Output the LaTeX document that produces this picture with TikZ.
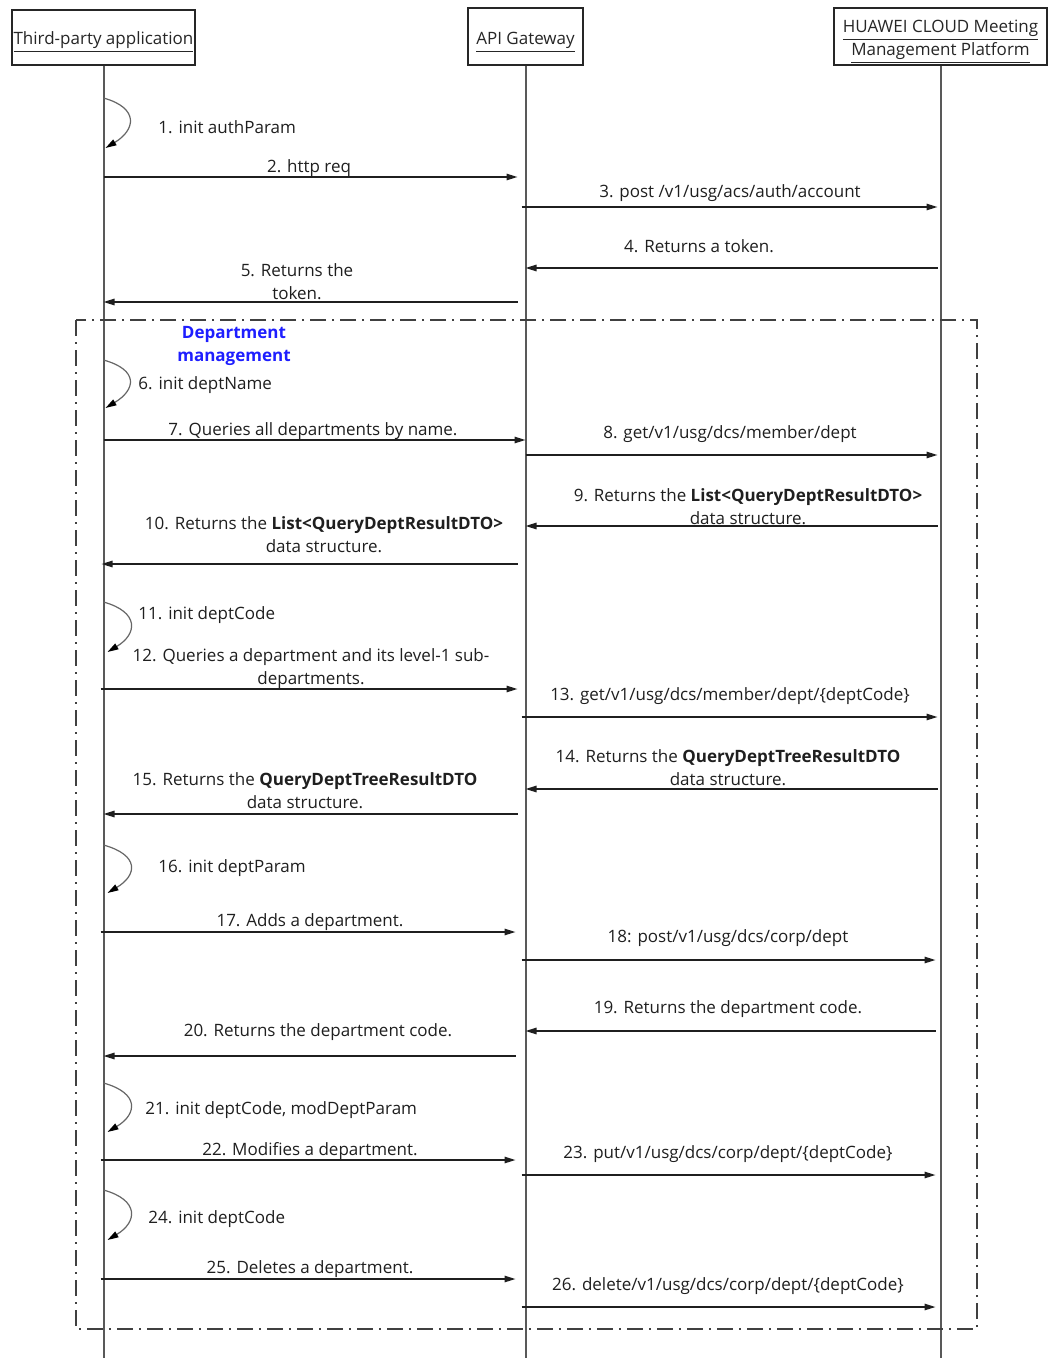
\documentclass[tikz,border=0pt]{standalone}
\usepackage{fontspec}
\setmainfont{Open Sans}
\usetikzlibrary{arrows.meta}
\begin{document}
\begin{tikzpicture}[x=0.5pt,y=-0.5pt,
  font=\fontsize{8.5}{11.5}\selectfont,
  lbl/.style={inner sep=0, align=center, text=black!88, yshift=-1pt},
  msg/.style={draw=black!88, line width=0.75pt, -{Triangle[length=5.5pt,width=3.2pt]}},
  loopmsg/.style={draw=black!60, line width=0.6pt, -{Triangle[length=5.5pt,width=3.2pt,color=black]}},
  life/.style={draw=black!65, line width=1pt},
  head/.style={draw=black!85, line width=0.6pt, inner sep=0},
  htxt/.style={inner sep=0, align=center, text=black!85},
  frame/.style={draw=black!75, line width=0.6pt, dash pattern=on 8pt off 3pt on 1pt off 3pt},
  grp/.style={inner sep=0, align=center, yshift=-1pt, text={rgb,255:red,30;green,30;blue,255}, font=\fontsize{8.5}{11.5}\selectfont\bfseries}]
\useasboundingbox (0,0) rectangle (1048,1358);
\fill[white] (0,0) rectangle (1048,1358);
% headers
\node[head, minimum width=91.5pt, minimum height=27.5pt] (A) at (103.5,37.5) {};
\node[head, minimum width=57.5pt, minimum height=28.5pt] (G) at (525.5,36.5) {};
\node[head, minimum width=106.5pt, minimum height=28.5pt] (P) at (940.5,36.5) {};
\node[htxt] (At) at (103.5,42) {\underline{Third-party application}};
\node[htxt] (Gt) at (525.5,42) {\underline{API Gateway}};
\node[htxt] (Pt) at (940.5,42) {\underline{HUAWEI CLOUD Meeting}\\\underline{Management Platform}};
% lifelines
\draw[life] (A.south) -- (A.south |- 0,1358);
\draw[life] (G.south) -- (G.south |- 0,1358);
\draw[life] (P.south) -- (P.south |- 0,1358);
% group frame
\draw[frame] (76,320) rectangle (977,1329);
\node[grp] (grp) at (234,344) {Department\\management};
% 1
\draw[loopmsg] (A.south |- 0,98) .. controls +(36,10) and +(30,-18) .. ([xshift=1pt]A.south |- 0,148);
\node[lbl, anchor=west] (m1) at (158,125) {1. init authParam};
% 2
\draw[msg, shorten >=4pt] (A.south |- 0,177) -- (G.south |- 0,177);
\node[lbl] (m2) at (309,166) {2. http req};
% 3
\draw[msg, shorten <=-2pt, shorten >=1.5pt] (G.south |- 0,207) -- (P.south |- 0,207);
\node[lbl] (m3) at (730,191) {3. post /v1/usg/acs/auth/account};
% 4
\draw[msg, shorten <=1.5pt] (P.south |- 0,268) -- (G.south |- 0,268);
\node[lbl] (m4) at (699,244) {4. Returns a token.};
% 5
\draw[msg, shorten <=4pt] (G.south |- 0,302) -- (A.south |- 0,302);
\node[lbl] (m5) at (297,280) {5. Returns the\\token.};
% 6
\draw[loopmsg] (A.south |- 0,360) .. controls +(36,10) and +(30,-18) .. ([xshift=1pt]A.south |- 0,408);
\node[lbl, anchor=west] (m6) at (138,383) {6. init deptName};
% 7
\draw[msg] (A.south |- 0,440) -- (G.south |- 0,440);
\node[lbl] (m7) at (313,429) {7. Queries all departments by name.};
% 8
\draw[msg, shorten >=1.5pt] (G.south |- 0,455) -- (P.south |- 0,455);
\node[lbl] (m8) at (730,432) {8. get/v1/usg/dcs/member/dept};
% 9
\draw[msg, shorten <=1.5pt] (P.south |- 0,526) -- (G.south |- 0,526);
\node[lbl] (m9) at (748,504.5) {9. Returns the \textbf{List<QueryDeptResultDTO>}\\data structure.};
% 10
\draw[msg, shorten <=4pt, shorten >=-1pt] (G.south |- 0,564) -- (A.south |- 0,564);
\node[lbl] (m10) at (324,532.5) {10. Returns the \textbf{List<QueryDeptResultDTO>}\\data structure.};
% 11
\draw[loopmsg] (A.south |- 0,602) .. controls +(36,10) and +(30,-18) .. ([xshift=2pt]A.south |- 0,652);
\node[lbl, anchor=west] (m11) at (138,613) {11. init deptCode};
% 12
\draw[msg, shorten <=-1.5pt, shorten >=4pt] (A.south |- 0,689) -- (G.south |- 0,689);
\node[lbl] (m12) at (311,666.5) {12. Queries a department and its level-1 sub-\\departments.};
% 13
\draw[msg, shorten <=-2pt, shorten >=1.5pt] (G.south |- 0,717) -- (P.south |- 0,717);
\node[lbl] (m13) at (730,694) {13. get/v1/usg/dcs/member/dept/\{deptCode\}};
% 14
\draw[msg, shorten <=1.5pt] (P.south |- 0,789) -- (G.south |- 0,789);
\node[lbl] (m14) at (728,765.5) {14. Returns the \textbf{QueryDeptTreeResultDTO}\\data structure.};
% 15
\draw[msg, shorten <=4pt] (G.south |- 0,814) -- (A.south |- 0,814);
\node[lbl] (m15) at (305,788.5) {15. Returns the \textbf{QueryDeptTreeResultDTO}\\data structure.};
% 16
\draw[loopmsg] (A.south |- 0,845) .. controls +(36,10) and +(30,-18) .. ([xshift=2pt]A.south |- 0,893);
\node[lbl, anchor=west] (m16) at (158,866) {16. init deptParam};
% 17
\draw[msg, shorten <=-1.5pt, shorten >=5pt] (A.south |- 0,932) -- (G.south |- 0,932);
\node[lbl] (m17) at (310,920) {17. Adds a department.};
% 18
\draw[msg, shorten <=-2pt, shorten >=2.5pt] (G.south |- 0,960) -- (P.south |- 0,960);
\node[lbl] (m18) at (728,936) {18: post/v1/usg/dcs/corp/dept};
% 19
\draw[msg, shorten <=2.5pt] (P.south |- 0,1031) -- (G.south |- 0,1031);
\node[lbl] (m19) at (728,1007) {19. Returns the department code.};
% 20
\draw[msg, shorten <=5pt] (G.south |- 0,1056) -- (A.south |- 0,1056);
\node[lbl] (m20) at (318,1030) {20. Returns the department code.};
% 21
\draw[loopmsg] (A.south |- 0,1083) .. controls +(36,10) and +(30,-18) .. ([xshift=2pt]A.south |- 0,1132);
\node[lbl, anchor=west] (m21) at (145,1108) {21. init deptCode, modDeptParam};
% 22
\draw[msg, shorten <=-1.5pt, shorten >=5pt] (A.south |- 0,1160) -- (G.south |- 0,1160);
\node[lbl] (m22) at (310,1149) {22. Modifies a department.};
% 23
\draw[msg, shorten <=-2pt, shorten >=2.5pt] (G.south |- 0,1175) -- (P.south |- 0,1175);
\node[lbl] (m23) at (728,1152) {23. put/v1/usg/dcs/corp/dept/\{deptCode\}};
% 24
\draw[loopmsg] (A.south |- 0,1190) .. controls +(36,10) and +(30,-18) .. ([xshift=2pt]A.south |- 0,1240);
\node[lbl, anchor=west] (m24) at (148,1217) {24. init deptCode};
% 25
\draw[msg, shorten <=-1.5pt, shorten >=5pt] (A.south |- 0,1279) -- (G.south |- 0,1279);
\node[lbl] (m25) at (310,1267) {25. Deletes a department.};
% 26
\draw[msg, shorten <=-2pt, shorten >=2.5pt] (G.south |- 0,1307) -- (P.south |- 0,1307);
\node[lbl] (m26) at (728,1284) {26. delete/v1/usg/dcs/corp/dept/\{deptCode\}};
\end{tikzpicture}
\end{document}
